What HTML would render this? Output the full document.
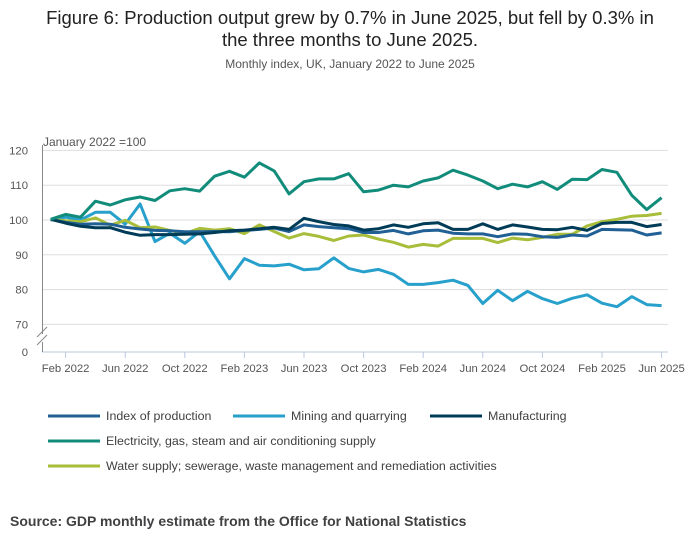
<!DOCTYPE html>
<html><head><meta charset="utf-8"><style>
body{margin:0;background:#fff;font-family:"Liberation Sans",sans-serif;}
svg text{font-family:"Liberation Sans",sans-serif;}
</style></head><body>
<svg width="700" height="549" viewBox="0 0 700 549">
<text x="350" y="24" text-anchor="middle" font-size="18.5" fill="#222">Figure 6: Production output grew by 0.7% in June 2025, but fell by 0.3% in</text>
<text x="350" y="46" text-anchor="middle" font-size="18.5" fill="#222">the three months to June 2025.</text>
<text x="350" y="68" text-anchor="middle" font-size="12" fill="#555">Monthly index, UK, January 2022 to June 2025</text>
<text x="43" y="146" font-size="12" fill="#555">January 2022 =100</text>
<g id="grid"></g>
<g id="series"></g>
<g id="legend"></g>
<text x="10" y="526" font-size="14" font-weight="bold" fill="#414042">Source: GDP monthly estimate from the Office for National Statistics</text>
</svg>
<script>
const yTicks=[120,110,100,90,80,70];
const xTickLabels=["Feb 2022","Jun 2022","Oct 2022","Feb 2023","Jun 2023","Oct 2023","Feb 2024","Jun 2024","Oct 2024","Feb 2025","Jun 2025"];
const xTickIndex=[1,5,9,13,17,21,25,29,33,37,41];
const seriesNames=["Index of production","Mining and quarrying","Manufacturing","Electricity, gas, steam and air conditioning supply","Water supply; sewerage, waste management and remediation activities"];
const indexProduction=[100.2,99.3,98.8,98.9,98.8,97.9,97.4,97,96.9,96.6,96.6,96.7,96.6,97,97.3,97.7,96.7,98.6,98.1,97.8,97.5,96.4,96.4,97,96,96.9,97.1,96.2,96,96,95.2,96,95.9,95.2,95,95.7,95.4,97.3,97.2,97.1,95.7,96.3];
const mining=[100,100.8,100,102.2,102.2,98.8,104.6,93.8,96.2,93.3,96.7,89.7,83.1,88.9,87,86.8,87.3,85.7,86,89.1,86.1,85.1,85.8,84.4,81.5,81.5,82,82.7,81.2,76,79.8,76.8,79.5,77.4,76,77.5,78.5,76.1,75.1,78,75.7,75.4];
const manufacturing=[100.2,99.1,98.2,97.8,97.8,96.5,95.6,95.8,95.8,95.9,96,96.4,96.9,97.1,97.5,97.9,97.3,100.5,99.5,98.7,98.3,97.1,97.5,98.6,97.9,98.9,99.2,97.3,97.3,98.9,97.3,98.6,98,97.3,97.2,97.9,97,99,99.3,99.3,98.1,98.7];
const energy=[100.2,101.6,100.8,105.4,104.3,105.8,106.6,105.6,108.4,109,108.3,112.6,114,112.3,116.4,114.1,107.5,111,111.8,111.8,113.3,108.1,108.6,110,109.5,111.2,112.1,114.3,112.9,111.2,109,110.3,109.5,111,108.8,111.7,111.6,114.5,113.7,107.1,103,106.4];
const water=[100.2,99.8,99.5,100.6,98.5,99.9,97.8,98,97,96.1,97.6,97.1,97.5,96.1,98.6,96.7,94.8,96.1,95.3,94.1,95.4,95.7,94.5,93.6,92.2,93,92.5,94.7,94.7,94.7,93.5,94.8,94.3,95,95.9,95.9,98.3,99.5,100.2,101.1,101.3,101.9];
const colors=["#206095","#27a0cc","#003c57","#118c7b","#a8bd3a"];
const NS="http://www.w3.org/2000/svg";
function xS(i){return 50.7+i*14.9;}
function yS(v){return 220-(v-100)*3.48;}
function mk(tag,attrs,parent){const e=document.createElementNS(NS,tag);for(const k in attrs)e.setAttribute(k,attrs[k]);parent.appendChild(e);return e;}
const grid=document.getElementById('grid');
yTicks.forEach(t=>{
 const l=mk('line',{x1:42,x2:668,y1:yS(t),y2:yS(t),stroke:'#ddd','stroke-width':1},grid);
 
 
 const tx=mk('text',{x:28,y:yS(t)+4,'text-anchor':'end','font-size':11.3,fill:'#555'},grid);
 tx.textContent=t;
 
 
});
const zl=mk('line',{x1:42,x2:668,y1:352,y2:352,stroke:'#b8c8dc','stroke-width':1},grid);


const zt=mk('text',{x:28,y:356,'text-anchor':'end','font-size':11.3,fill:'#555'},grid);
zt.textContent='0';


const ya=mk('path',{d:'M42.5 145 V334 M42.5 342 V352',stroke:'#888',fill:'none'},grid);


const br=mk('path',{d:'M37 337 L47 327 M37 345 L47 335',stroke:'#888',fill:'none'},grid);


xTickIndex.forEach((idx,k)=>{
 const x=xS(idx);
 const tl=mk('line',{x1:x,x2:x,y1:352,y2:358,stroke:'#b8c8dc'},grid);
 
 
 const tx=mk('text',{x:x,y:372,'text-anchor':'middle','font-size':11.3,fill:'#555'},grid);
 tx.textContent=xTickLabels[k];
 
 
});
const all=[indexProduction,mining,manufacturing,energy,water];
const order=[1,4,0,2,3];
const sg=document.getElementById('series');
order.forEach(s=>{
 const d=all[s].map((v,i)=>(i?'L':'M')+xS(i).toFixed(1)+' '+yS(v).toFixed(1)).join(' ');
 const p=mk('path',{d:d,fill:'none',stroke:colors[s],'stroke-width':3,'stroke-linejoin':'round'},sg);
 
 
});
const lg=document.getElementById('legend');
const lpos=[[48,416],[233,416],[430,416],[48,441],[48,466]];
seriesNames.forEach((n,s)=>{
 const [x,y]=lpos[s];
 const g=mk('g',{},lg);
 
 
 mk('line',{x1:x,x2:x+52,y1:y,y2:y,stroke:colors[s],'stroke-width':3},g);
 const t=mk('text',{x:x+58,y:y+4,'font-size':12.4,fill:'#414042'},g);
 t.textContent=n;
});
</script>
</body></html>
